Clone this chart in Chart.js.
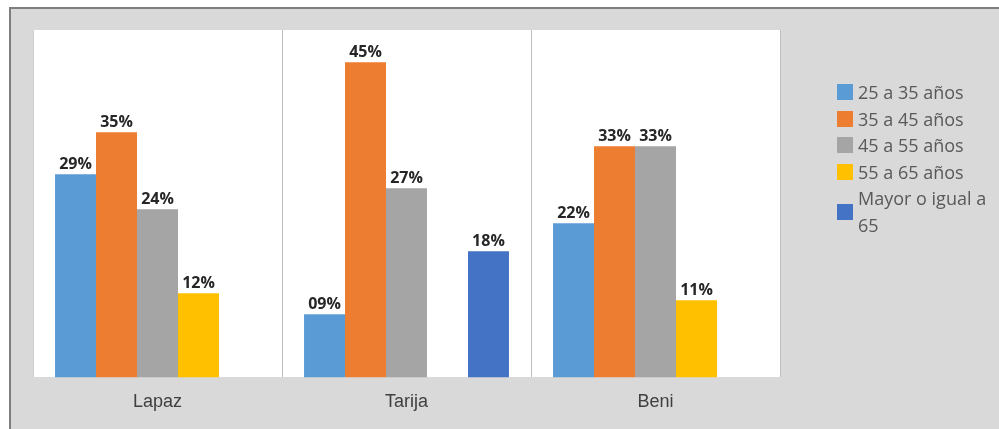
<!DOCTYPE html>
<html>
<head>
<meta charset="utf-8">
<script src="https://cdn.jsdelivr.net/npm/chart.js@4/dist/chart.umd.min.js"></script>
<style>
  html, body { margin: 0; padding: 0; background: #fff; }
  #page { position: relative; width: 999px; height: 429px; overflow: hidden; }
  #frame {
    position: absolute; left: 9px; top: 7px; right: 0; bottom: 0;
    background: #d9d9d9;
    border-top: 2px solid #7f7f7f; border-left: 2px solid #7f7f7f;
  }
  #chart { position: absolute; left: 0; top: 0; }
  #legend {
    position: absolute; left: 837px; top: 79px; width: 160px;
    font-family: "Open Sans", sans-serif; font-size: 18px; color: #595959;
    line-height: 26.5px;
  }
  .item { display: flex; align-items: center; }
  .box { width: 16px; height: 16px; flex: none; margin-right: 5px; }
  .txt { width: 136px; }
</style>
</head>
<body>
<div id="page">
  <div id="frame"></div>
  <canvas id="chart" width="999" height="429"></canvas>
  <div id="legend"></div>
</div>
<script>
// chart values
const regions = ['Lapaz', 'Tarija', 'Beni'];
const ageGroups = ['25 a 35 años', '35 a 45 años', '45 a 55 años', '55 a 65 años', 'Mayor o igual a 65'];
const age25to35 = [29, 9, 22];
const age35to45 = [35, 45, 33];
const age45to55 = [24, 27, 33];
const age55to65 = [12, null, 11];
const age65plus = [null, 18, null];
const colors = ['#5b9bd5', '#ed7d31', '#a5a5a5', '#ffc000', '#4472c4'];

const series = [age25to35, age35to45, age45to55, age55to65, age65plus];

// white plot area
const plotBg = {
  id: 'plotBg',
  beforeDraw(chart) {
    const a = chart.chartArea;
    chart.ctx.save();
    chart.ctx.fillStyle = '#ffffff';
    chart.ctx.fillRect(a.left, a.top, a.right - a.left, a.bottom - a.top);
    chart.ctx.restore();
  }
};

// value labels on top of each bar
const barLabels = {
  id: 'barLabels',
  afterDatasetsDraw(chart) {
    const ctx = chart.ctx;
    ctx.save();
    ctx.font = 'bold 16px "Open Sans", sans-serif';
    ctx.fillStyle = '#262626';
    ctx.textAlign = 'center';
    ctx.textBaseline = 'alphabetic';
    chart.data.datasets.forEach((ds, i) => {
      chart.getDatasetMeta(i).data.forEach((bar, j) => {
        const v = ds.data[j];
        if (v == null) return;
        ctx.fillText(String(v).padStart(2, '0') + '%', bar.x, bar.y - 5);
      });
    });
    ctx.restore();
  }
};

const chart = new Chart(document.getElementById('chart'), {
  type: 'bar',
  data: {
    labels: regions,
    datasets: series.map((d, i) => ({
      label: ageGroups[i],
      data: d,
      backgroundColor: colors[i],
      borderWidth: 0,
      categoryPercentage: 0.823,
      barPercentage: 1
    }))
  },
  options: {
    responsive: false,
    animation: false,
    layout: { padding: { left: 33, top: 30, right: 219, bottom: 2 } },
    plugins: {
      legend: { display: false },
      tooltip: { enabled: false }
    },
    scales: {
      x: {
        grid: {
          offset: true,
          drawTicks: false,
          color: (c) => c.index === 3 ? 'rgba(0,0,0,0)' : (c.index === 0 ? '#d0d0d0' : '#bfbfbf')
        },
        border: { display: true, color: '#d9d9d9' },
        ticks: {
          padding: 14,
          color: '#404040',
          font: { family: '"Liberation Sans", Arial, sans-serif', size: 18 }
        }
      },
      y: { display: false, min: 0, max: 49.6 }
    }
  },
  plugins: [plotBg, barLabels]
});

// html legend built from the chart
const legend = document.getElementById('legend');
chart.data.datasets.forEach((ds) => {
  const item = document.createElement('div');
  item.className = 'item';
  item.innerHTML = '<span class="box" style="background:' + ds.backgroundColor + '"></span><span class="txt">' + ds.label + '</span>';
  legend.appendChild(item);
});
</script>
</body>
</html>
